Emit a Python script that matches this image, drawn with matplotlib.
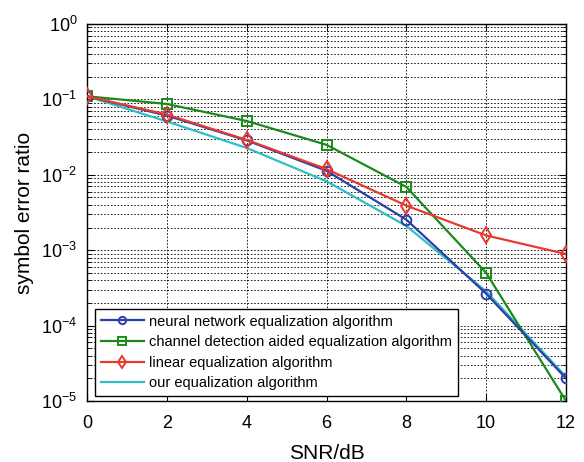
import matplotlib
matplotlib.use("Agg")
import matplotlib.pyplot as plt
from matplotlib.ticker import LogLocator, NullFormatter

plt.rcParams['font.family'] = ['Liberation Sans', 'DejaVu Sans']

snr = [0, 2, 4, 6, 8, 10, 12]
neural = [0.11, 0.061, 0.0286, 0.0113, 0.00254, 2.65e-4, 2.0e-5]
channel = [0.11, 0.087, 0.0517, 0.025, 0.0069, 5.0e-4, 1.0e-5]
linear = [0.11, 0.063, 0.029, 0.0119, 0.0039, 0.00157, 8.9e-4]
ours = [0.11, 0.051, 0.0227, 0.0082, 0.0021, 2.84e-4, 2.1e-5]

labels = ['neural network equalization algorithm',
          'channel detection aided equalization algorithm',
          'linear equalization algorithm',
          'our equalization algorithm']

fig = plt.figure(figsize=(5.84, 4.62), dpi=100)
ax = fig.add_axes([87/584, 1 - 401/462, 479/584, 377/462])

lw = 1.6
ax.plot(snr, neural, color='#2b3fa8', marker='o', ms=7, mfc='none', mew=1.4, lw=lw, label=labels[0], zorder=4)
ax.plot(snr, channel, color='#1a8a1a', marker='s', ms=7, mfc='none', mew=1.4, lw=lw, label=labels[1], zorder=3)
ax.plot(snr, linear, color='#e8392f', marker='d', ms=8, mfc='none', mew=1.4, lw=lw, label=labels[2], zorder=5)
ax.plot(snr, ours, color='#2ebfc4', lw=lw, label=labels[3], zorder=2)

ax.set_yscale('log')
ax.set_xlim(0, 12)
ax.set_ylim(1e-5, 1)
ax.set_xticks(snr)
ax.yaxis.set_major_locator(LogLocator(base=10, numticks=10))
ax.yaxis.set_minor_locator(LogLocator(base=10, subs=range(2, 10), numticks=10))
ax.yaxis.set_minor_formatter(NullFormatter())

ax.grid(True, which='major', axis='both', ls=(0, (2, 2)), color='black', lw=0.6)
ax.grid(True, which='minor', axis='y', ls=(0, (2, 2)), color='black', lw=0.6)
ax.tick_params(which='both', direction='in', top=True, right=True, labelsize=13)
ax.tick_params(axis='x', which='major', pad=10)
ax.tick_params(axis='y', which='major', pad=7)
ax.tick_params(which='minor', length=3)
ax.tick_params(which='major', length=5)
for s in ax.spines.values():
    s.set_linewidth(1.0)

ax.set_xlabel('SNR/dB', fontsize=15, labelpad=9)
ax.set_ylabel('symbol error ratio', fontsize=15, labelpad=5)

leg = ax.legend(loc='lower left', bbox_to_anchor=(0.017, 0.013), fontsize=10.5, frameon=True,
                fancybox=False, edgecolor='black', framealpha=1, handlelength=2.95,
                handletextpad=0.35, borderpad=0.4, labelspacing=0.45, borderaxespad=0,
                markerscale=0.75)
leg.get_frame().set_linewidth(1.0)

fig.savefig('out.png', dpi=100)
